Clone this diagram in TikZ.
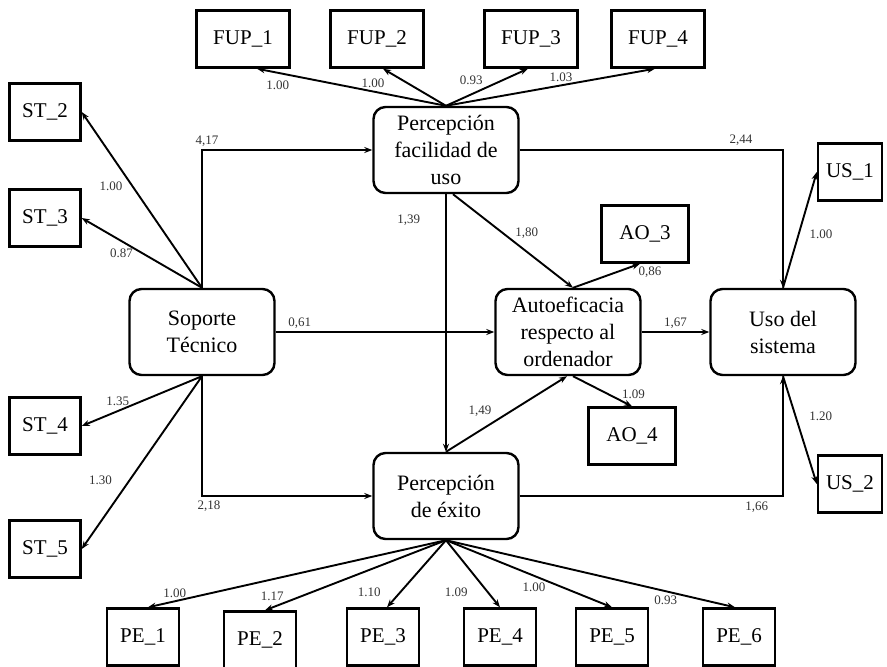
\documentclass[tikz,border=0pt]{standalone}
\usepackage{fontspec}
\setmainfont{Liberation Serif}
\usetikzlibrary{arrows.meta}
\tikzset{
  latent/.style={draw, line width=2.4pt, rounded corners=12pt, align=center, minimum width=145pt, minimum height=86pt, inner sep=2pt, font=\fontsize{22}{27}\selectfont},
  ind/.style={draw, line width=2.4pt, minimum width=93pt, minimum height=57pt, inner sep=2pt, font=\fontsize{21}{24}\selectfont},
  stind/.style={ind, minimum width=71pt},
  aoind/.style={ind, minimum width=87pt},
  usind/.style={ind, minimum width=64pt},
  peind/.style={ind, minimum width=72pt},
  flow/.style={-{Stealth[length=8pt, width=6pt]}, line width=1.9pt},
  lbl/.style={font=\fontsize{13}{15}\selectfont, text=black!80, inner sep=1pt},
}
\begin{document}
\begin{tikzpicture}[x=1pt, y=-1pt]
    \useasboundingbox (0,0) rectangle (887,667);
    % latent constructs
    \node[latent] (sop) at (202,332) {Soporte\\Técnico};
    \node[latent] (pfu) at (446,150) {Percepción\\facilidad de\\uso};
    \node[latent] (auto) at (568,332) {Autoeficacia\\respecto al\\ordenador};
    \node[latent] (uso) at (783,332) {Uso del\\sistema};
    \node[latent] (pex) at (446,496) {Percepción\\de éxito};
    % indicators
    \node[ind] (fup1) at (243,39) {FUP\_1};
    \node[ind] (fup2) at (377,39) {FUP\_2};
    \node[ind] (fup3) at (531,39) {FUP\_3};
    \node[ind] (fup4) at (658,39) {FUP\_4};
    \node[stind] (st2) at (45,112) {ST\_2};
    \node[stind] (st3) at (45,218) {ST\_3};
    \node[stind] (st4) at (45,426) {ST\_4};
    \node[stind] (st5) at (45,549) {ST\_5};
    \node[aoind] (ao3) at (645,234) {AO\_3};
    \node[aoind] (ao4) at (632,436) {AO\_4};
    \node[usind] (us1) at (850,172) {US\_1};
    \node[usind] (us2) at (850,484) {US\_2};
    \node[peind] (pe1) at (143,637) {PE\_1};
    \node[peind] (pe2) at (260,640) {PE\_2};
    \node[peind] (pe3) at (383,637) {PE\_3};
    \node[peind] (pe4) at (500,637) {PE\_4};
    \node[peind] (pe5) at (612,637) {PE\_5};
    \node[peind] (pe6) at (739,637) {PE\_6};
    % structural paths
    \draw[flow] (sop.north) |- (pfu.west) node[lbl, pos=0.5, above=2pt, xshift=5pt]{4,17};
    \draw[flow] (sop.south) |- (pex.west) node[lbl, pos=0.5, below=3pt, xshift=7pt]{2,18};
    \draw[flow] (sop.east) -- (auto.west) node[lbl, pos=0.11, above=2pt]{0,61};
    \draw[flow] (pfu.south) -- (pex.north) node[lbl, pos=0.1, left=24pt]{1,39};
    \draw[flow] ([xshift=7pt]pfu.south) -- ([xshift=5pt]auto.north) node[lbl, pos=0.42, right=10pt]{1,80};
    \draw[flow] (pex.north) -- ([xshift=-1pt]auto.south) node[lbl, pos=0.54, left=18pt]{1,49};
    \draw[flow] (auto.east) -- (uso.west) node[lbl, pos=0.5, above=2pt]{1,67};
    \draw[flow] (pfu.east) -| (uso.north) node[lbl, pos=0.42, above=3pt]{2,44};
    \draw[flow] (pex.east) -| (uso.south) node[lbl, pos=0.45, below=4pt]{1,66};
    % measurement paths
    \draw[flow] ([xshift=5pt]auto.north) -- ([xshift=-5pt]ao3.south) node[lbl, pos=0.95, below right]{0,86};
    \draw[flow] ([xshift=5pt]auto.south) -- (ao4.north) node[lbl, pos=0.8, above right]{1.09};
    \draw[flow] (uso.north) -- (us1.west) node[lbl, pos=0.46, right=9pt]{1.00};
    \draw[flow] (uso.south) -- (us2.west) node[lbl, pos=0.37, right=12pt]{1.20};
    \draw[flow] (pfu.north) -- ([xshift=14pt]fup1.south) node[lbl, pos=0.89, below=6pt]{1.00};
    \draw[flow] (pfu.north) -- ([xshift=6pt]fup2.south) node[lbl, pos=0.6, left=22pt]{1.00};
    \draw[flow] (pfu.north) -- ([xshift=-3pt]fup3.south) node[lbl, pos=0.69, left=18pt]{0.93};
    \draw[flow] (pfu.north) -- ([xshift=-3pt]fup4.south) node[lbl, pos=0.55, above=2pt]{1.03};
    \draw[flow] (sop.north) -- (st2.east) node[lbl, pos=0.58, left=8pt]{1.00};
    \draw[flow] (sop.north) -- (st3.east) node[lbl, pos=0.67, below=6pt]{0.87};
    \draw[flow] (sop.south) -- (st4.east) node[lbl, pos=0.7, above=3pt]{1.35};
    \draw[flow] (sop.south) -- (st5.east) node[lbl, pos=0.6, left=16pt]{1.30};
    \draw[flow] (pex.south) -- ([xshift=5pt]pe1.north) node[lbl, pos=0.91, above=2pt]{1.00};
    \draw[flow] (pex.south) -- ([xshift=5pt]pe2.north) node[lbl, pos=0.96, above=5pt]{1.17};
    \draw[flow] (pex.south) -- ([xshift=4pt]pe3.north) node[lbl, pos=0.77, left=18pt]{1.10};
    \draw[flow] (pex.south) -- (pe4.north) node[lbl, pos=0.77, left=18pt]{1.09};
    \draw[flow] (pex.south) -- (pe5.north) node[lbl, pos=0.53, below=5pt]{1.00};
    \draw[flow] (pex.south) -- ([xshift=-4pt]pe6.north) node[lbl, pos=0.76, below=3pt]{0.93};
  \end{tikzpicture}
\end{document}
